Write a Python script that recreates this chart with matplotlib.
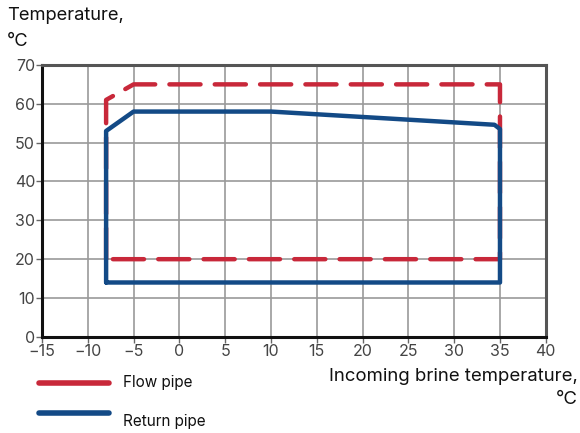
import matplotlib
matplotlib.use("Agg")
from matplotlib import pyplot as plt
from matplotlib.lines import Line2D

plt.rcParams['font.family'] = ['Inter', 'DejaVu Sans']

# Operating envelope
flow_x = [-8, -8, -5, 35, 35, -8]
flow_y = [20, 61, 65, 65, 20, 20]
return_x = [-8, -8, -5, 10, 34.4, 35, 35, -8]
return_y = [14, 53, 58, 58, 54.6, 53.5, 14, 14]

x_ticks = [-15, -10, -5, 0, 5, 10, 15, 20, 25, 30, 35, 40]
y_ticks = [0, 10, 20, 30, 40, 50, 60, 70]

legend_labels = ['Flow pipe', 'Return pipe']

red = '#c8283a'
blue = '#134a86'

fig = plt.figure(figsize=(5.8, 4.33), dpi=100)
ax = fig.add_axes([0.0724, 0.222, 0.8686, 0.628])

ax.plot(flow_x, flow_y, color=red, lw=3.2, dashes=(7, 3.2),
        dash_capstyle='round', dash_joinstyle='round', zorder=3)
ax.plot(return_x, return_y, color=blue, lw=3.2, solid_joinstyle='round',
        solid_capstyle='round', zorder=4)

ax.set_xlim(-15, 40)
ax.set_ylim(0, 70)
ax.set_xticks(x_ticks)
ax.set_xticklabels([str(v).replace('-', '\u2212') for v in x_ticks])
ax.set_yticks(y_ticks)
ax.grid(True, color='#9a9a9a', lw=1.2)
ax.set_axisbelow(True)
ax.tick_params(labelsize=11.5, labelcolor='#444444', color='#666666',
               length=4, width=1, pad=1)
for s in ['left', 'bottom']:
    ax.spines[s].set_color('#111111')
    ax.spines[s].set_linewidth(2.2)
for s in ['top', 'right']:
    ax.spines[s].set_color('#555555')
    ax.spines[s].set_linewidth(2.2)

# axis titles
fig.text(0.012, 0.965, 'Temperature,', ha='left', va='center',
         fontsize=13.2, color='#111111')
fig.text(0.012, 0.905, '\u00b0C', ha='left', va='center',
         fontsize=13.2, color='#111111')
fig.text(0.997, 0.13, 'Incoming brine temperature,', ha='right',
         va='center', fontsize=13.4, color='#111111')
fig.text(0.997, 0.077, '\u00b0C', ha='right', va='center',
         fontsize=13.4, color='#111111')

# legend drawn by hand to keep the reference's offsets
fig.add_artist(Line2D([0.068, 0.188], [0.1155, 0.1155], color=red, lw=4,
                      solid_capstyle='round'))
fig.add_artist(Line2D([0.068, 0.188], [0.046, 0.046], color=blue, lw=4,
                      solid_capstyle='round'))
fig.text(0.212, 0.1155, legend_labels[0], ha='left', va='center',
         fontsize=11, color='#111111')
fig.text(0.212, 0.027, legend_labels[1], ha='left', va='center',
         fontsize=11, color='#111111')

fig.savefig('out.png', dpi=100)
